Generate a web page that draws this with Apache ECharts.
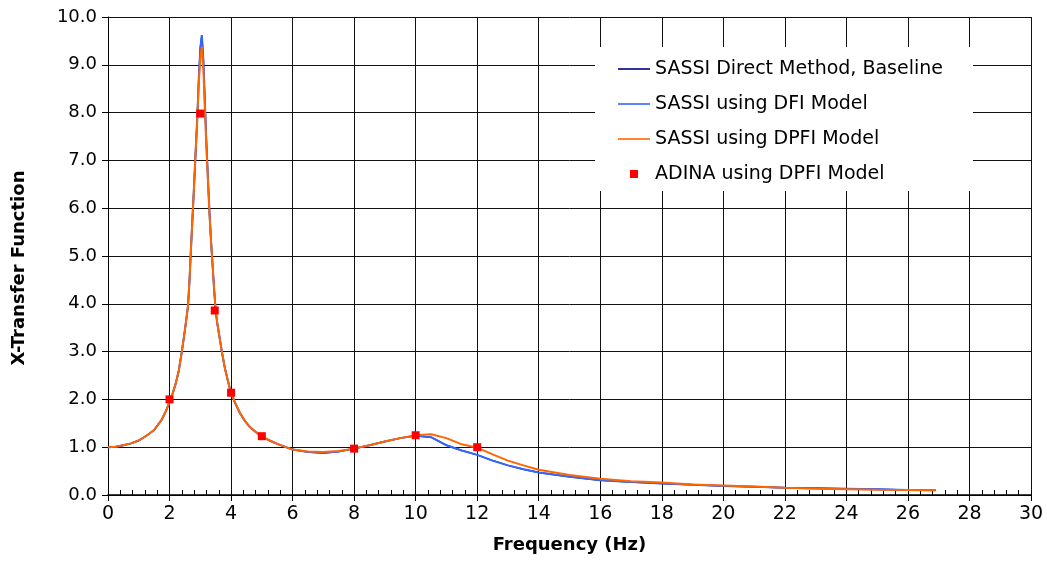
<!DOCTYPE html>
<html><head><meta charset="utf-8">
<script src="https://cdn.jsdelivr.net/npm/echarts@6/dist/echarts.min.js"></script>
<style>html,body{margin:0;padding:0;background:#fff;}#c{width:1047px;height:569px;}</style>
</head><body><div id="c"></div>
<script>
const seriesNames = ['SASSI Direct Method, Baseline','SASSI using DFI Model','SASSI using DPFI Model','ADINA using DPFI Model'];
const freq = [0,0.25,0.5,0.75,1.0, 1.25,1.5,1.75,1.9,2.0, 2.1,2.2,2.3,2.4,2.5, 2.6,2.65,2.7,2.75,2.8, 2.85,2.9,2.95,3.0,3.05, 3.1,3.15,3.2,3.25,3.3, 3.35,3.4,3.45,3.5,3.55, 3.6,3.7,3.8,3.9,4.0, 4.15,4.3,4.45,4.6,4.8, 5.0,5.25,5.5,6.0,6.5, 7.0,7.5,8.0,8.5,9.0, 9.5,10.0,10.5,11.0,11.5, 12.0,12.5,13,13.5,14, 15,16,17,18,19, 20,21,22,23,24, 25,26,26.9];
const baseline = [1.0,1.01,1.04,1.08,1.14, 1.24,1.36,1.58,1.78,1.95, 2.12,2.33,2.6,3.0,3.45, 3.95,4.5,5.2,5.85,6.5, 7.2,7.85,8.7,9.35,9.62, 9.1,8.2,7.35,6.6,5.9, 5.3,4.8,4.3,3.85,3.6, 3.4,3.0,2.65,2.38,2.13, 1.9,1.7,1.55,1.43,1.32, 1.22,1.14,1.07,0.95,0.9, 0.88,0.91,0.97,1.04,1.12, 1.19,1.24,1.21,1.04,0.93, 0.84,0.72,0.62,0.54,0.47, 0.38,0.31,0.27,0.24,0.215, 0.19,0.17,0.15,0.14,0.13, 0.12,0.105,0.1];
const dfi = [1.0,1.01,1.04,1.08,1.14, 1.24,1.36,1.58,1.78,1.95, 2.12,2.33,2.6,3.0,3.45, 3.95,4.5,5.2,5.85,6.5, 7.2,7.85,8.7,9.35,9.62, 9.1,8.2,7.35,6.6,5.9, 5.3,4.8,4.3,3.85,3.6, 3.4,3.0,2.65,2.38,2.13, 1.9,1.7,1.55,1.43,1.32, 1.22,1.14,1.07,0.95,0.9, 0.88,0.91,0.97,1.04,1.12, 1.19,1.24,1.21,1.04,0.93, 0.84,0.72,0.62,0.54,0.47, 0.38,0.31,0.27,0.24,0.215, 0.19,0.17,0.15,0.14,0.13, 0.12,0.105,0.1];
const dpfi = [1.0,1.01,1.04,1.08,1.14, 1.24,1.36,1.58,1.78,1.95, 2.12,2.33,2.6,3.0,3.45, 3.95,4.5,5.2,5.85,6.5, 7.2,7.85,8.6,9.15,9.38, 8.9,8.05,7.25,6.55,5.85, 5.3,4.8,4.3,3.85,3.6, 3.4,3.0,2.65,2.38,2.13, 1.9,1.7,1.55,1.43,1.32, 1.22,1.14,1.07,0.95,0.91, 0.9,0.92,0.97,1.04,1.12, 1.19,1.25,1.27,1.19,1.06, 0.99,0.85,0.72,0.62,0.53, 0.42,0.34,0.29,0.26,0.22, 0.2,0.18,0.15,0.13,0.12, 0.11,0.105,0.1];
const adinaFreq = [2,3,3.47,4,5,8,10,12];
const adinaVal = [2.0,7.98,3.86,2.14,1.23,0.97,1.25,1.0];
const xTicks = {min:0, max:30, interval:2};
const yTicks = {min:0, max:10, interval:1};

const pair = (xs, ys) => xs.map((x,i)=>[x, ys[i]]);
const FONT = 'DejaVu Sans';
const LINE_ICON = 'path://M0,0h32v1.6h-32z';
const chart = echarts.init(document.getElementById('c'), null, {renderer:'canvas'});
chart.setOption({
  animation:false,
  backgroundColor:'#fff',
  textStyle:{fontFamily:FONT, color:'#000'},
  grid:{left:108, right:16, top:17, bottom:74, containLabel:false},
  legend:{
    orient:'vertical', left:595, top:47, backgroundColor:'#fff',
    padding:[12,30,7,23], itemWidth:32, itemHeight:8, itemGap:15, itemTextGap:9,
    textStyle:{fontFamily:FONT, fontSize:19, lineHeight:20, color:'#000'},
    data:[
      {name:seriesNames[0], icon:LINE_ICON},{name:seriesNames[1], icon:LINE_ICON},{name:seriesNames[2], icon:LINE_ICON},
      {name:seriesNames[3], icon:'path://M0,0h10v10h-10z'}
    ]
  },
  xAxis:[{
    type:'value', min:xTicks.min, max:xTicks.max, interval:xTicks.interval,
    name:'Frequency (Hz)', nameLocation:'middle', nameGap:41,
    nameTextStyle:{fontFamily:FONT, fontSize:18, fontWeight:'bold', color:'#000'},
    axisLine:{show:true, onZero:false, lineStyle:{color:'#000', width:1.5}},
    axisTick:{show:true, inside:false, length:6, lineStyle:{color:'#000'}},
    axisLabel:{fontFamily:FONT, fontSize:19, color:'#000', margin:10},
    splitLine:{show:true, lineStyle:{color:'#111', width:1}}
  },{
    type:'value', min:xTicks.min, max:xTicks.max, interval:0.4, position:'bottom',
    axisLine:{show:false}, axisLabel:{show:false}, splitLine:{show:false},
    axisTick:{show:true, inside:true, length:5, lineStyle:{color:'#000'}}
  }],
  yAxis:{
    type:'value', min:yTicks.min, max:yTicks.max, interval:yTicks.interval,
    name:'X-Transfer Function', nameLocation:'middle', nameGap:80, nameRotate:90,
    nameTextStyle:{fontFamily:FONT, fontSize:18, fontWeight:'bold', color:'#000', padding:[0,24,0,0]},
    axisLine:{show:true, lineStyle:{color:'#000', width:1}},
    axisTick:{show:true, inside:false, length:6, lineStyle:{color:'#000'}},
    axisLabel:{fontFamily:FONT, fontSize:18, color:'#000', margin:11, formatter:v=>v.toFixed(1)},
    splitLine:{show:true, lineStyle:{color:'#111', width:1}}
  },
  series:[
    {name:seriesNames[0], type:'line', data:pair(freq, baseline), symbol:'none', lineStyle:{color:'#000080', width:1.5}, itemStyle:{color:'#000080'}, z:3},
    {name:seriesNames[1], type:'line', data:pair(freq, dfi), symbol:'none', lineStyle:{color:'#3366FF', width:2}, itemStyle:{color:'#3366FF'}, z:4},
    {name:seriesNames[2], type:'line', data:pair(freq, dpfi), symbol:'none', lineStyle:{color:'#FF6600', width:2}, itemStyle:{color:'#FF6600'}, z:5},
    {name:seriesNames[3], type:'scatter', data:pair(adinaFreq, adinaVal), symbol:'rect', symbolSize:8, itemStyle:{color:'#FF0000', opacity:1}, z:6}
  ]
});
</script></body></html>
